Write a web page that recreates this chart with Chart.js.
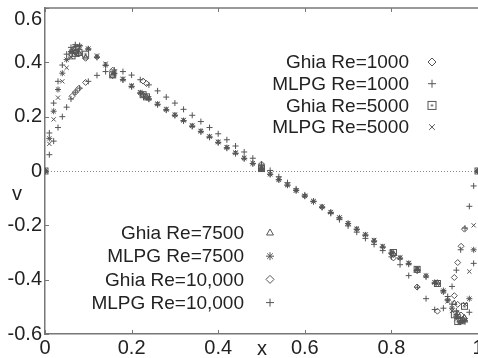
<!DOCTYPE html>
<html><head><meta charset="utf-8">
<script src="https://cdn.jsdelivr.net/npm/chart.js@4.4.1/dist/chart.umd.min.js"></script>
<style>
html,body{margin:0;padding:0;background:#fff;overflow:hidden;width:478px;height:358px}
#wrap{position:relative;width:490px;height:358px}
</style></head><body>
<div id="wrap"><canvas id="c"></canvas></div>
<script>
// ---- data ----
const X_TICKS = [0, 0.2, 0.4, 0.6, 0.8, 1];
const Y_TICKS = [-0.6, -0.4, -0.2, 0, 0.2, 0.4, 0.6];

const GHIA_X = [0, 0.0625, 0.0703, 0.0781, 0.0938, 0.1563, 0.2266, 0.2344, 0.5, 0.8047, 0.8594, 0.9063, 0.9453, 0.9531, 0.9609, 0.9688, 1];
const GHIA_1000  = [0, 0.275, 0.290, 0.304, 0.326, 0.371, 0.331, 0.322, 0.025, -0.320, -0.427, -0.516, -0.392, -0.337, -0.277, -0.214, 0];
const GHIA_5000  = [0, 0.424, 0.433, 0.436, 0.430, 0.354, 0.281, 0.273, 0.009, -0.300, -0.362, -0.414, -0.529, -0.554, -0.551, -0.498, 0];
const GHIA_7500  = [0, 0.440, 0.440, 0.436, 0.418, 0.351, 0.281, 0.273, 0.008, -0.304, -0.362, -0.411, -0.486, -0.523, -0.552, -0.539, 0];
const GHIA_10000 = [0, 0.440, 0.437, 0.431, 0.415, 0.351, 0.280, 0.272, 0.008, -0.307, -0.367, -0.415, -0.459, -0.491, -0.530, -0.543, 0];

const MLPG_X = [0, 0.01, 0.02, 0.03, 0.04, 0.05, 0.06, 0.07, 0.08, 0.10, 0.12, 0.14, 0.16, 0.18, 0.20, 0.22, 0.24, 0.26, 0.28, 0.30,
  0.32, 0.34, 0.36, 0.38, 0.40, 0.42, 0.44, 0.46, 0.48, 0.50, 0.52, 0.54, 0.56, 0.58, 0.60, 0.62, 0.64, 0.66, 0.68, 0.70,
  0.72, 0.74, 0.76, 0.78, 0.80, 0.82, 0.84, 0.86, 0.88, 0.90, 0.92, 0.93, 0.94, 0.95, 0.96, 0.97, 0.98, 0.99, 1.0];
const MLPG_1000 = [0, 0.06, 0.11, 0.16, 0.20, 0.235, 0.265, 0.29, 0.305, 0.33, 0.352, 0.366, 0.372, 0.366, 0.353, 0.336, 0.317, 0.295, 0.272, 0.250,
  0.227, 0.205, 0.182, 0.160, 0.137, 0.115, 0.092, 0.070, 0.047, 0.025, 0.002, -0.021, -0.043, -0.066, -0.088, -0.111, -0.134, -0.156, -0.179, -0.202,
  -0.225, -0.248, -0.270, -0.293, -0.316, -0.345, -0.385, -0.428, -0.470, -0.510, -0.505, -0.475, -0.425, -0.365, -0.290, -0.210, -0.130, -0.055, 0];
const MLPG_5000 = [0, 0.10, 0.19, 0.27, 0.33, 0.38, 0.42, 0.445, 0.455, 0.45, 0.425, 0.395, 0.365, 0.34, 0.315, 0.29, 0.268, 0.248, 0.228, 0.208,
  0.188, 0.168, 0.148, 0.128, 0.108, 0.088, 0.068, 0.049, 0.029, 0.009, -0.011, -0.031, -0.051, -0.071, -0.091, -0.111, -0.131, -0.151, -0.171, -0.192,
  -0.212, -0.233, -0.254, -0.276, -0.298, -0.318, -0.338, -0.360, -0.385, -0.410, -0.440, -0.480, -0.515, -0.545, -0.555, -0.490, -0.370, -0.200, 0];
const MLPG_7500 = [0, 0.12, 0.22, 0.30, 0.36, 0.41, 0.44, 0.458, 0.46, 0.45, 0.42, 0.39, 0.36, 0.337, 0.312, 0.288, 0.266, 0.246, 0.226, 0.206,
  0.186, 0.166, 0.146, 0.126, 0.106, 0.086, 0.066, 0.047, 0.028, 0.008, -0.012, -0.032, -0.052, -0.072, -0.092, -0.112, -0.132, -0.152, -0.172, -0.193,
  -0.214, -0.235, -0.257, -0.279, -0.301, -0.320, -0.340, -0.362, -0.386, -0.410, -0.445, -0.475, -0.505, -0.535, -0.555, -0.550, -0.470, -0.290, 0];
const MLPG_10000 = [0, 0.14, 0.25, 0.33, 0.39, 0.43, 0.455, 0.465, 0.462, 0.448, 0.418, 0.388, 0.358, 0.335, 0.31, 0.286, 0.264, 0.244, 0.224, 0.204,
  0.184, 0.164, 0.144, 0.124, 0.104, 0.084, 0.064, 0.045, 0.027, 0.008, -0.012, -0.032, -0.052, -0.072, -0.093, -0.113, -0.133, -0.153, -0.173, -0.194,
  -0.215, -0.237, -0.259, -0.281, -0.304, -0.323, -0.343, -0.365, -0.390, -0.414, -0.440, -0.462, -0.490, -0.515, -0.540, -0.555, -0.520, -0.340, 0];

const LABELS = ['Ghia Re=1000', 'MLPG Re=1000', 'Ghia Re=5000', 'MLPG Re=5000',
                'Ghia Re=7500', 'MLPG Re=7500', 'Ghia Re=10,000', 'MLPG Re=10,000'];

// ---- styling ----
const MARK = '#555';
function squareDot(r) {
  const s = r * 2 + 3, c = document.createElement('canvas');
  c.width = s; c.height = s;
  const g = c.getContext('2d');
  g.strokeStyle = MARK; g.lineWidth = 1;
  g.strokeRect(1.5, 1.5, s - 3, s - 3);
  g.fillStyle = MARK; g.fillRect(s / 2 - 1, s / 2 - 1, 2, 2);
  return c;
}
const SQ_PLOT = squareDot(3), SQ_LEG = squareDot(4);
const STYLES = ['rectRot', 'cross', SQ_PLOT, 'crossRot', 'triangle', 'star', 'rectRot', 'cross'];
const LEG_STYLES = ['rectRot', 'cross', SQ_LEG, 'crossRot', 'triangle', 'star', 'rectRot', 'cross'];

const SERIES = [
  [GHIA_X, GHIA_1000], [MLPG_X, MLPG_1000], [GHIA_X, GHIA_5000], [MLPG_X, MLPG_5000],
  [GHIA_X, GHIA_7500], [MLPG_X, MLPG_7500], [GHIA_X, GHIA_10000], [MLPG_X, MLPG_10000]
];

const datasets = SERIES.map((s, i) => ({
  label: LABELS[i],
  data: s[0].map((x, k) => ({ x: x, y: s[1][k] })),
  showLine: false,
  pointStyle: STYLES[i],
  pointRadius: 3,
  pointBorderWidth: 1,
  borderColor: MARK,
  backgroundColor: 'rgba(0,0,0,0)',
  pointBackgroundColor: 'rgba(0,0,0,0)'
}));

const FONT = "'Liberation Sans', Arial, sans-serif";

const deco = {
  id: 'deco',
  beforeDatasetsDraw(chart) {
    const { ctx, chartArea: a, scales: { x, y } } = chart;
    ctx.save();
    // dotted zero line
    ctx.strokeStyle = '#888'; ctx.lineWidth = 1; ctx.setLineDash([1, 2]);
    const y0 = Math.round(y.getPixelForValue(0)) + 0.5;
    ctx.beginPath(); ctx.moveTo(a.left, y0); ctx.lineTo(a.right, y0); ctx.stroke();
    ctx.setLineDash([]);
    // top frame
    ctx.strokeStyle = '#777'; ctx.lineWidth = 1.5;
    ctx.beginPath(); ctx.moveTo(a.left, a.top); ctx.lineTo(a.right + 12, a.top); ctx.stroke();
    // inward ticks
    ctx.lineWidth = 1;
    X_TICKS.forEach(v => {
      const px = Math.round(x.getPixelForValue(v)) + 0.5;
      ctx.beginPath(); ctx.moveTo(px, a.bottom); ctx.lineTo(px, a.bottom - 4);
      ctx.moveTo(px, a.top); ctx.lineTo(px, a.top + 4); ctx.stroke();
    });
    Y_TICKS.forEach(v => {
      const py = Math.round(y.getPixelForValue(v)) + 0.5;
      ctx.beginPath(); ctx.moveTo(a.left, py); ctx.lineTo(a.left + 4, py); ctx.stroke();
    });
    ctx.restore();
  },
  afterDraw(chart) {
    const { ctx, chartArea: a } = chart;
    ctx.save();
    ctx.fillStyle = '#222';
    ctx.font = '20px ' + FONT;
    // top y tick label sits a little lower in the figure
    ctx.textAlign = 'right'; ctx.textBaseline = 'middle';
    ctx.fillText('0.6', a.left - 3, 19);
    ctx.textAlign = 'center';
    ctx.fillText('v', 17, 194);
    ctx.fillText('x', 262, 349);
    // legends
    ctx.font = '19px ' + FONT;
    ctx.textAlign = 'right';
    const blocks = [
      { tx: 409, sx: 432, y0: 62, dy: 21.7, idx: [0, 1, 2, 3] },
      { tx: 244, sx: 270, y0: 233, dy: 23.2, idx: [4, 5, 6, 7] }
    ];
    blocks.forEach(b => {
      b.idx.forEach((i, k) => {
        const yy = b.y0 + k * b.dy;
        ctx.fillStyle = '#222';
        ctx.fillText(LABELS[i], b.tx, yy + 1);
        ctx.strokeStyle = MARK; ctx.fillStyle = 'rgba(0,0,0,0)'; ctx.lineWidth = 1;
        Chart.helpers.drawPoint(ctx, { pointStyle: LEG_STYLES[i], radius: 4, borderWidth: 1, rotation: 0 }, b.sx, yy);
      });
    });
    ctx.restore();
  }
};

new Chart(document.getElementById('c'), {
  type: 'scatter',
  data: { datasets },
  plugins: [deco],
  options: {
    responsive: true, maintainAspectRatio: false, animation: false, devicePixelRatio: 1,
    layout: { padding: { top: 8, right: 12, left: 0, bottom: 0 } },
    plugins: { legend: { display: false }, tooltip: { enabled: false } },
    scales: {
      x: {
        type: 'linear', min: 0, max: 1,
        afterBuildTicks: s => { s.ticks = X_TICKS.map(v => ({ value: v })); },
        afterFit: s => { s.height = 24; s.paddingLeft = 0; s.paddingRight = 0; },
        ticks: { font: { size: 20, family: FONT }, color: '#222', padding: 2, maxRotation: 0,
                 callback: v => String(v) },
        grid: { display: true, drawOnChartArea: false, drawTicks: false },
        border: { display: true, color: '#777', width: 1.5 }
      },
      y: {
        type: 'linear', min: -0.6, max: 0.6,
        afterBuildTicks: s => { s.ticks = Y_TICKS.map(v => ({ value: v })); },
        afterFit: s => { s.width = 45; s.paddingTop = 0; s.paddingBottom = 0; },
        ticks: { font: { size: 20, family: FONT }, color: '#222', padding: 3,
                 callback: v => (v >= 0.59 ? '' : String(Math.round(v * 10) / 10)) },
        grid: { display: true, drawOnChartArea: false, drawTicks: false },
        border: { display: true, color: '#777', width: 1.5 }
      }
    }
  }
});
</script>
</body></html>
